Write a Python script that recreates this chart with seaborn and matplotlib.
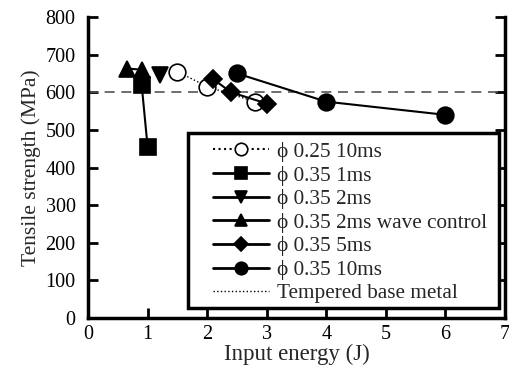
import matplotlib
matplotlib.use("Agg")
import matplotlib.pyplot as plt
import seaborn as sns
import pandas as pd
from matplotlib.lines import Line2D
from matplotlib.patches import Rectangle

sns.set_theme(style="ticks")
plt.rcParams['font.family'] = ['Liberation Serif', 'DejaVu Serif']

# Data
x_025_10 = [1.5, 2.0, 2.8]
y_025_10 = [655, 615, 575]
x_035_1 = [0.9, 1.0]
y_035_1 = [620, 455]
x_035_2 = [1.2]
y_035_2 = [645]
x_035_2w = [0.65, 0.9]
y_035_2w = [663, 660]
x_035_5 = [2.1, 2.4, 3.0]
y_035_5 = [635, 600, 570]
x_035_10 = [2.5, 4.0, 6.0]
y_035_10 = [650, 575, 540]
base_metal = 600

labels = ["\u03d5 0.25 10ms", "\u03d5 0.35 1ms", "\u03d5 0.35 2ms",
          "\u03d5 0.35 2ms wave control", "\u03d5 0.35 5ms", "\u03d5 0.35 10ms",
          "Tempered base metal"]

fig = plt.figure(figsize=(5.09, 3.69), dpi=100)
ax = fig.add_axes([0.173, 0.138, 0.819, 0.816])

ax.axhline(base_metal, color="#555555", lw=1.2, ls=(0, (6, 4)), zorder=1)

series = [
    (x_025_10, y_025_10, "o", ":", 1.0, "white"),
    (x_035_1, y_035_1, "s", "-", 1.5, "black"),
    (x_035_2, y_035_2, "v", "-", 1.5, "black"),
    (x_035_2w, y_035_2w, "^", "-", 1.5, "black"),
    (x_035_5, y_035_5, "D", "-", 1.5, "black"),
    (x_035_10, y_035_10, "o", "-", 1.5, "black"),
]
handles = []
for (xs, ys, m, ls, lw, fc), lab in zip(series, labels):
    df = pd.DataFrame({"x": xs, "y": ys})
    ms = 12 if m != "D" else 9.5
    sns.lineplot(data=df, x="x", y="y", ax=ax, sort=False, color="black",
                 lw=lw, ls=ls, marker=m, markersize=ms, markerfacecolor=fc,
                 markeredgecolor="black", markeredgewidth=1.2, legend=False,
                 zorder=3)
    hms = 9 if m != "D" else 7
    handles.append(Line2D([], [], color="black", lw=lw + 0.5, ls=ls, marker=m,
                          markersize=hms, markerfacecolor=fc,
                          markeredgecolor="black", markeredgewidth=1.2, label=lab))
handles.append(Line2D([], [], color="black", lw=1.0, ls=":", label=labels[-1]))

ax.set_xlim(0, 7)
ax.set_ylim(0, 800)
ax.set_xticks(range(0, 8))
ax.set_yticks(range(0, 801, 100))
ax.tick_params(direction="in", length=7, width=2, labelsize=14.5,
               right=True, top=False, colors="black")
ax.tick_params(axis="y", pad=9)
ax.tick_params(axis="x", pad=5)
for s in ["left", "bottom", "right"]:
    ax.spines[s].set_linewidth(2.5)
    ax.spines[s].set_color("black")
ax.spines["top"].set_visible(False)
ax.set_xlabel("Input energy (J)", fontsize=16.5, labelpad=0)
ax.set_ylabel("Tensile strength (MPa)", fontsize=15.5, labelpad=3)

# legend frame
frame = Rectangle((0.24, 0.033), 0.745, 0.582, transform=ax.transAxes,
                  facecolor="white", edgecolor="black", lw=2.5, zorder=5)
ax.add_patch(frame)
leg = ax.legend(handles=handles, loc="upper left",
                bbox_to_anchor=(0.30, 0.585),
                fontsize=15.3, frameon=False, handlelength=2.65,
                handletextpad=0.35, labelspacing=0.17, borderpad=0,
                borderaxespad=0)
leg.set_zorder(6)

fig.savefig("out.png", dpi=100)
